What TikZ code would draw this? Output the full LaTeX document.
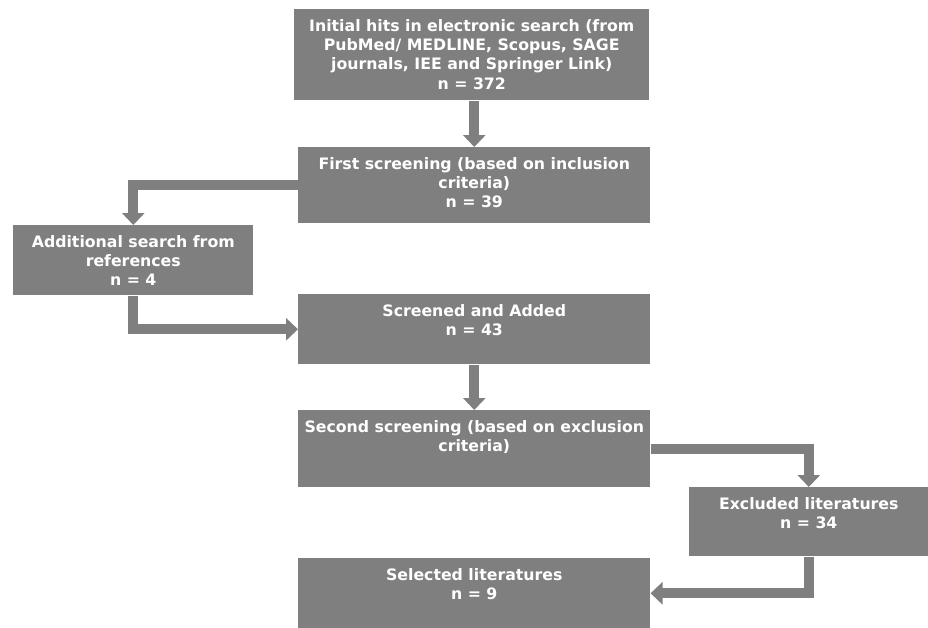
\documentclass[tikz,border=0pt]{standalone}
\usepackage{fontspec}
\setmainfont{DejaVu Sans}
\usetikzlibrary{positioning, arrows.meta}
\definecolor{boxgray}{HTML}{7F7F7F}
\tikzset{
	box/.style={fill=boxgray, text=white, inner sep=0pt, anchor=north west,
		font=\fontsize{11.2pt}{13.6pt}\selectfont\bfseries},
	flow/.style={draw=boxgray, line width=0.25cm, -{Triangle[width=0.55cm,length=0.3cm]}}
}
\newcommand{\boxtext}[3]{\parbox[t][#2][t]{#1}{\vspace*{0.26cm}\centering #3}}

\begin{document}
\begin{tikzpicture}
		\useasboundingbox (0,0) rectangle (23.2,-15.7);
		% boxes
		\node[box] (hits) at (7.35,-0.225) {\boxtext{8.875cm}{2.275cm}{Initial hits in electronic search (from\\ PubMed/ MEDLINE, Scopus, SAGE\\ journals, IEE and Springer Link)\\ n = 372}};
		\node[box] (first) at (7.45,-3.675) {\boxtext{8.8cm}{1.9cm}{First screening (based on inclusion\\ criteria)\\ n = 39}};
		\node[box] (addl) at (0.325,-5.625) {\boxtext{6cm}{1.75cm}{Additional search from\\ references\\ n = 4}};
		\node[box] (added) at (7.45,-7.35) {\boxtext{8.8cm}{1.75cm}{Screened and Added\\ n = 43}};
		\node[box] (second) at (7.45,-10.25) {\boxtext{8.8cm}{1.925cm}{Second screening (based on exclusion\\ criteria)}};
		\node[box] (excl) at (17.225,-12.175) {\boxtext{5.975cm}{1.725cm}{Excluded literatures\\ n = 34}};
		\node[box] (selected) at (7.45,-13.95) {\boxtext{8.8cm}{1.75cm}{Selected literatures\\ n = 9}};
		% arrows
		\draw[flow] (first.north |- hits.south) -- (first);
		\draw[flow] (first.west) -| (addl.north);
		\draw[flow] (addl.south) |- (added.west);
		\draw[flow] (added) -- (second);
		\draw[flow] (second.east) -| (excl.north);
		\draw[flow] (excl.south) |- (selected.east);
\end{tikzpicture}
\end{document}
